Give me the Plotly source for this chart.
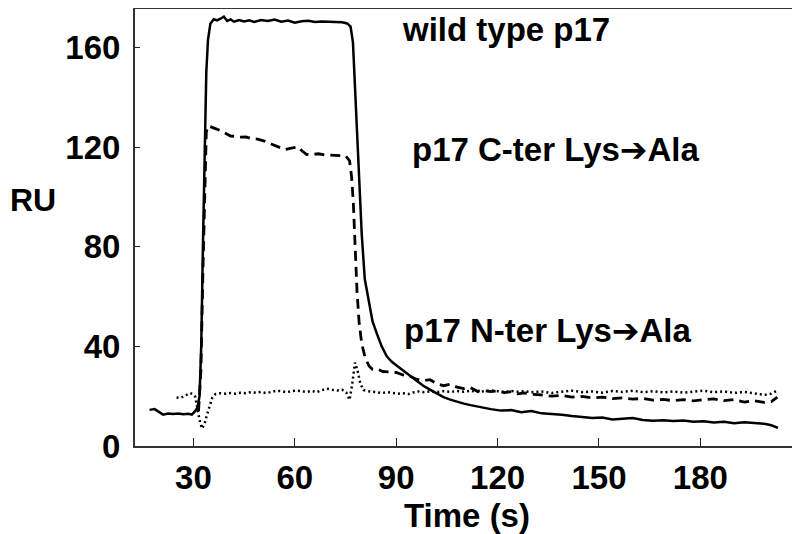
import plotly.graph_objects as go

# ---- data ----
wt_t = [17, 18.5, 20, 21, 22.5, 24, 25.5, 27, 28.5, 29.5, 30.5, 31.2, 31.8, 32.3, 32.8, 33.3, 33.8, 34.3,
        35, 36, 37, 38, 39, 40, 41, 42, 43.5, 45, 46.5, 48, 50, 52, 54, 56, 58, 60, 62, 64, 66, 68, 70,
        72, 74, 75.5, 76.5, 77.2, 77.8, 78.4, 79, 79.8, 80.7, 81.8, 83, 84.3, 85.7, 87.2, 88.7, 90.2, 92,
        94, 96, 98, 100, 102, 104, 106, 108, 110, 112, 115, 118, 121, 124, 127, 130, 133, 136, 139, 142,
        145, 148, 151, 154, 157, 160, 163, 166, 169, 172, 175, 178, 181, 184, 187, 190, 193, 196, 199,
        201, 203]
wt_v = [14.5, 14.8, 13.5, 12.6, 13.0, 12.8, 13.0, 12.7, 12.9, 12.6, 14.0, 15.5, 20, 40, 80, 120, 150, 163,
        169.5, 171.3, 170.8, 171.5, 172.3, 170.6, 171.2, 170.3, 171.0, 170.4, 170.9, 170.2, 171.0, 170.6,
        171.2, 170.3, 170.8, 169.9, 170.5, 170.7, 170.2, 170.4, 170.3, 170.4, 170.1, 169.6, 168.3, 162,
        145, 130, 108, 85, 67, 58, 50, 45, 40, 36, 33.8, 32.2, 30.3, 28.3, 26.3, 24.2, 22.6, 21.0, 19.6,
        18.6, 17.7, 17.0, 16.4, 15.5, 14.8, 14.2, 14.4, 13.6, 14.0, 13.1, 12.9, 12.5, 12.0, 11.6, 11.2,
        11.4, 10.6, 10.9, 11.2, 10.4, 10.1, 10.3, 10.0, 10.2, 9.7, 9.9, 9.4, 9.7, 9.1, 9.5, 9.3, 8.9,
        8.3, 7.3]

cter_t = [31.5, 32.2, 32.8, 33.3, 33.8, 34.3, 35.5, 36.5, 38, 39.5, 41, 42.5, 44, 45.5, 47, 49, 51, 53,
          55, 57, 59, 61, 62, 63.5, 65, 67, 69, 71, 73, 75, 76.2, 76.8, 77.3, 77.8, 78.4, 79, 79.8, 80.8,
          82, 83, 84.5, 86, 88, 90, 92, 94, 96, 98, 100, 102, 104, 106, 108, 110, 112, 114, 116, 118,
          120, 122, 124, 126, 128, 130, 133, 136, 139, 142, 145, 148, 151, 154, 157, 160, 163, 166, 169,
          172, 175, 178, 181, 184, 187, 190, 193, 196, 199, 201, 202.8]
cter_v = [14, 30, 70, 105, 126, 128.5, 128, 127.4, 126.6, 125.6, 124.4, 124.3, 124.0, 124.1, 123.4, 123.2,
          122.4, 121.2, 120.0, 119.0, 119.6, 120.1, 118.6, 117.0, 117.1, 117.3, 116.8, 116.7, 116.8, 116.5,
          114.5, 108, 98, 80, 62, 50, 41, 35.5, 32, 30.8, 30.8, 29.9, 29.6, 29.5, 28.5, 28.0, 26.8, 26.2,
          26.6, 25.0, 24.2, 24.8, 23.6, 23.0, 23.4, 22.0, 22.3, 21.8, 22.1, 21.4, 21.8, 20.9, 21.3, 20.8,
          20.5, 20.0, 20.3, 19.6, 19.9, 19.3, 19.6, 19.0, 19.3, 18.8, 19.1, 18.4, 18.7, 18.2, 18.6, 18.1,
          18.6, 18.9, 18.2, 18.6, 17.6, 18.2, 17.5, 17.8, 19.6]

nter_t = [25, 26, 27, 28, 29, 29.8, 30.5, 31.2, 31.8, 32.5, 33.2, 34, 34.8, 35.6, 36.5, 38, 39.5, 41,
          42.5, 44, 45.5, 47, 48.5, 50, 51.5, 53, 54.5, 56, 57.5, 59, 60.5, 62, 63.5, 65, 66.5, 68, 69.5,
          71, 72.5, 74, 75.2, 76.2, 77, 77.8, 78.6, 79.4, 80.3, 81.5, 83, 84.5, 86, 87.5, 89, 90.5, 92,
          93.5, 95, 96.5, 98, 100, 102, 104, 106, 108, 110, 112, 114, 116, 118, 120, 122, 124, 126, 128,
          130, 133, 136, 139, 142, 145, 148, 151, 154, 157, 160, 163, 166, 169, 172, 175, 178, 181, 184,
          187, 190, 193, 196, 199, 201, 203]
nter_v = [19.5, 19.3, 19.8, 20.4, 21.3, 20.8, 19.8, 15, 10.5, 7, 8.5, 12.5, 16.5, 19.5, 20.8, 21.2, 21.0,
          21.3, 21.0, 21.4, 21.2, 21.6, 21.4, 21.7, 21.2, 21.6, 22.2, 22.0, 21.6, 22.0, 22.3, 22.0, 21.7,
          22.1, 21.6, 22.4, 23.0, 22.6, 22.3, 22.6, 21.5, 18.5, 25, 33.5, 30, 25, 22.5, 22.0, 21.8, 21.6,
          21.3, 21.6, 21.4, 21.0, 21.2, 20.8, 21.5, 21.9, 21.6, 21.9, 21.6, 22.0, 21.7, 22.1, 21.8, 22.2,
          21.7, 22.1, 22.3, 22.0, 21.6, 22.1, 21.8, 22.0, 21.6, 21.9, 21.3, 21.8, 22.2, 21.6, 21.9, 21.4,
          22.1, 21.7, 22.2, 21.6, 22.0, 21.5, 21.9, 21.4, 21.8, 22.2, 21.6, 21.9, 21.3, 21.7, 21.1, 20.5,
          21.0, 22.5]

x_ticks = [30, 60, 90, 120, 150, 180]
y_ticks = [0, 40, 80, 120, 160]

labels = ["wild type p17", "p17 C-ter Lys➔Ala", "p17 N-ter Lys➔Ala"]
label_x = [91.2, 94.0, 91.7]
label_y = [167.3, 119.0, 46.5]

FONT = "Liberation Sans, Arial, DejaVu Sans, sans-serif"

fig = go.Figure()
fig.add_trace(go.Scatter(x=wt_t, y=wt_v, mode="lines",
                         line=dict(color="black", width=2.5), name=labels[0]))
fig.add_trace(go.Scatter(x=cter_t, y=cter_v, mode="lines",
                         line=dict(color="black", width=2.8, dash="10px,6px"), name=labels[1]))
fig.add_trace(go.Scatter(x=nter_t, y=nter_v, mode="lines",
                         line=dict(color="black", width=2.5, dash="2px,3px"), name=labels[2]))

for txt, lx, ly in zip(labels, label_x, label_y):
    fig.add_annotation(x=lx, y=ly, xref="x", yref="y", text=txt, showarrow=False,
                       xanchor="left", yanchor="middle",
                       font=dict(family=FONT, size=33, color="black", weight="bold"))

fig.add_annotation(x=-0.1913, y=98.7, xref="paper", yref="y", text="RU", showarrow=False,
                   xanchor="left", yanchor="middle",
                   font=dict(family=FONT, size=32, color="black", weight="bold"))

# The page adds an 8 px body margin, so the figure is sized/offset to compensate.
fig.update_layout(
    width=792, height=526,
    margin=dict(l=127, r=1, t=1, b=88, autoexpand=False),
    paper_bgcolor="white", plot_bgcolor="white",
    showlegend=False,
    font=dict(family=FONT, size=33, color="black", weight="bold"),
)
fig.update_xaxes(range=[12.7, 209.2], tickvals=x_ticks, ticks="inside", ticklen=8, tickwidth=1,
                 tickcolor="#222", showline=True, mirror=True, linecolor="#333", linewidth=2,
                 showgrid=False, zeroline=False, ticklabelstandoff=1, automargin=False,
                 title=dict(text="Time (s)", standoff=11,
                            font=dict(family=FONT, size=33, color="black", weight="bold")),
                 tickfont=dict(family=FONT, size=33, color="black", weight="bold"))
fig.update_yaxes(range=[0, 175.4], tickvals=y_ticks, ticks="inside", ticklen=5, tickwidth=1,
                 tickcolor="#222", showline=True, mirror=True, linecolor="#333", linewidth=2,
                 showgrid=False, zeroline=False, ticklabelstandoff=6, automargin=False,
                 tickfont=dict(family=FONT, size=33, color="black", weight="bold"))

fig.write_html("out.html")
